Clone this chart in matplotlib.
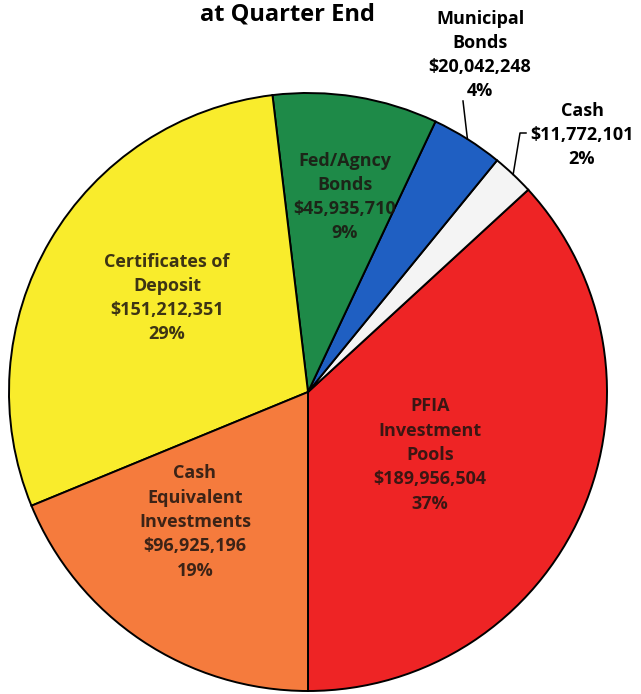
import numpy as np
import matplotlib.pyplot as plt

# Data
categories = ["PFIA\nInvestment\nPools", "Cash", "Municipal\nBonds", "Fed/Agncy\nBonds",
              "Certificates of\nDeposit", "Cash\nEquivalent\nInvestments"]
values = [189956504, 11772101, 20042248, 45935710, 151212351, 96925196]
pct_labels = ["37%", "2%", "4%", "9%", "29%", "19%"]
colors = ["#ee2425", "#f4f4f4", "#1f5fc2", "#1e8a48", "#f9ec2c", "#f57b3d"]

W, H = 641, 694
fig = plt.figure(figsize=(W / 100, H / 100), dpi=100)
ax = fig.add_axes([0, 0, 1, 1])

cx, cy, r = 308, H - 392, 299
wedges, _ = ax.pie(values, colors=colors, startangle=-90, counterclock=True,
                   center=(cx, cy), radius=r, frame=True,
                   wedgeprops=dict(edgecolor="black", linewidth=1.4))
ax.set_xlim(0, W)
ax.set_ylim(0, H)
ax.set_aspect("equal")
ax.axis("off")

font = dict(family=["Open Sans", "DejaVu Sans"], fontweight="bold", fontsize=13,
            ha="center", va="center", linespacing=1.45)
txt_color = "#1c1410"

def label(i):
    return "%s\n$%s\n%s" % (categories[i], format(values[i], ","), pct_labels[i])

# inside labels (pixel positions from the top)
inside = {0: (430, 455), 3: (345, 197), 4: (167, 298), 5: (195, 522)}
for i, (x, y) in inside.items():
    ax.text(x, H - y, label(i), color=txt_color, alpha=0.85, **font)

# outside labels
ax.text(480, H - 55, label(2), color="black", **font)
ax.text(582, H - 135, label(1), color="black", **font)

def edge_point(w):
    mid = np.deg2rad((w.theta1 + w.theta2) / 2)
    return cx + r * np.cos(mid), cy + r * np.sin(mid)

ex, ey = edge_point(wedges[2])
ax.plot([463, ex], [H - 101, ey], color="black", lw=1.1)
ex, ey = edge_point(wedges[1])
ax.plot([526, 520, ex], [H - 133, H - 133, ey], color="black", lw=1.1)

# title
ax.text(287, H - 2, "at Quarter End", family=["Open Sans", "DejaVu Sans"],
        fontweight="bold", fontsize=17, ha="center", va="top", color="black")

fig.savefig("out.png", dpi=100)
